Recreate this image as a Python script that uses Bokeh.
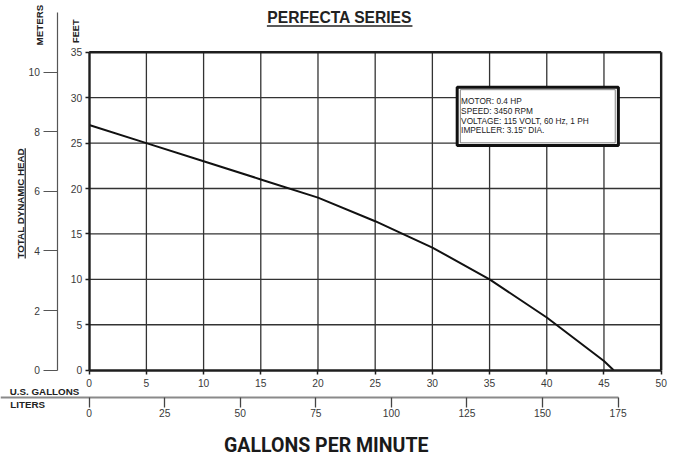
import math
from bokeh.plotting import figure
from bokeh.models import LinearAxis, Range1d, FixedTicker
from bokeh.core.properties import value
from bokeh.embed import file_html
from bokeh.resources import INLINE

# ---------------- data ----------------
gpm = [0, 5, 10, 15, 20, 25, 27.4, 30, 35, 40, 45, 45.85]
head_ft = [27.0, 25.0, 23.0, 21.0, 19.0, 16.4, 15.0, 13.5, 10.0, 5.8, 1.0, 0.0]

gal_ticks = [0, 5, 10, 15, 20, 25, 30, 35, 40, 45, 50]
ft_ticks = [0, 5, 10, 15, 20, 25, 30, 35]
m_ticks = [0, 2, 4, 6, 8, 10]
l_ticks = [0, 25, 50, 75, 100, 125, 150, 175]
m_axis_top = 12
specs = ["MOTOR: 0.4 HP", "SPEED: 3450 RPM", "VOLTAGE: 115 VOLT, 60 Hz, 1 PH",
         'IMPELLER: 3.15" DIA.']

M_PER_FT = 0.3048
L_PER_GAL = 3.78541

# ---------------- layout helpers (reference pixel -> data) ----------------
W, H = 676, 457
RW, RH = 692, 473      # reference picture size, mapped onto the canvas
X0, SX = 90.8, 11.71   # ref pixel of 0 gal, px per gal
Y0, SY = 382.6, 9.4    # ref pixel of 0 ft, px per ft
K = W / RW
BASE_FIX = 0.33        # text glyph baseline correction (em)


def gx(px):
    return (px - X0) / SX


def gy(py):
    return (Y0 - py) / SY


def fs(px):
    return f"{px * K:.2f}px"


FONT_NAME = "Liberation Sans"
FONT = value(FONT_NAME)
INK = "#1e1e1e"
LBL = "#3a3a3a"

p = figure(width=W, height=H, output_backend="svg", toolbar_location=None,
           x_range=Range1d(gx(0), gx(RW)),
           y_range=Range1d(gy(RH), gy(0)),
           x_axis_location=None, y_axis_location=None,
           min_border=0, outline_line_color=None,
           background_fill_color="white", border_fill_color="white")
p.grid.visible = False

p.extra_y_ranges = {"m": Range1d(gy(RH) * M_PER_FT, gy(0) * M_PER_FT)}
p.extra_x_ranges = {"L": Range1d(gx(0) * L_PER_GAL, gx(RW) * L_PER_GAL)}

xmax, ymax = gal_ticks[-1], ft_ticks[-1]

# grid
vx = gal_ticks[1:-1]
p.segment(x0=vx, y0=[0] * len(vx), x1=vx, y1=[ymax] * len(vx),
          line_color="#333333", line_width=1.3)
hy = ft_ticks[1:-1]
p.segment(x0=[0] * len(hy), y0=hy, x1=[xmax] * len(hy), y1=hy,
          line_color="#333333", line_width=1.3)
# frame top & right
p.segment(x0=[0, xmax], y0=[ymax, 0], x1=[xmax, xmax], y1=[ymax, ymax],
          line_color=INK, line_width=2.4)

# curve
p.line(gpm, head_ft, line_color="#111111", line_width=2, line_join="round")

# info box
p.quad(left=gx(467.5), right=gx(632.5), top=gy(89.7), bottom=gy(150),
       fill_color="white", line_color="#111111", line_width=3)
p.quad(left=gx(470.7), right=gx(629.3), top=gy(92.3), bottom=gy(147.3),
       fill_color=None, line_color="#666666", line_width=0.8)
SPEC_FS = 8.5
p.text(x=[gx(471.5)] * len(specs),
       y=[gy(107.3 + 10 * i - BASE_FIX * SPEC_FS) for i in range(len(specs))],
       text=specs, text_font=FONT, text_font_size=fs(SPEC_FS), text_color="#222222",
       text_align="left", text_baseline="alphabetic")

# axes
TICK_FS = fs(10.5)
ax_ft = LinearAxis(fixed_location=0, ticker=FixedTicker(ticks=ft_ticks), bounds=(0, ymax),
                   major_tick_out=4, major_tick_in=0, minor_tick_out=0, minor_tick_in=0,
                   major_label_standoff=3, axis_line_width=2.4, axis_line_color=INK,
                   major_tick_line_color=INK, major_tick_line_width=1.5,
                   major_label_text_font=FONT_NAME, major_label_text_font_size=TICK_FS,
                   major_label_text_color=LBL)
p.add_layout(ax_ft, "left")

ax_m = LinearAxis(y_range_name="m", fixed_location=gx(58.8), ticker=FixedTicker(ticks=m_ticks),
                  bounds=(0, m_axis_top),
                  major_tick_out=14, major_tick_in=0, minor_tick_out=0, minor_tick_in=0,
                  major_label_standoff=4, axis_line_width=1.2, axis_line_color="#555555",
                  major_tick_line_color="#555555", major_tick_line_width=1.2,
                  major_label_text_font=FONT_NAME, major_label_text_font_size=TICK_FS,
                  major_label_text_color=LBL)
p.add_layout(ax_m, "left")

ax_g = LinearAxis(fixed_location=0, ticker=FixedTicker(ticks=gal_ticks), bounds=(0, xmax),
                  major_tick_out=4, major_tick_in=0, minor_tick_out=0, minor_tick_in=0,
                  major_label_standoff=5, axis_line_width=2.6, axis_line_color=INK,
                  major_tick_line_color=INK, major_tick_line_width=1.5,
                  major_label_text_font=FONT_NAME, major_label_text_font_size=TICK_FS,
                  major_label_text_color=LBL)
p.add_layout(ax_g, "below")

ax_l = LinearAxis(x_range_name="L", fixed_location=gy(410.8), ticker=FixedTicker(ticks=l_ticks),
                  bounds=(gx(0) * L_PER_GAL, l_ticks[-1]),
                  major_tick_out=10, major_tick_in=0, minor_tick_out=0, minor_tick_in=0,
                  major_label_standoff=2, axis_line_width=1.8, axis_line_color="#8a8a8a",
                  major_tick_line_color="#444444", major_tick_line_width=1.3,
                  major_label_text_font=FONT_NAME, major_label_text_font_size=TICK_FS,
                  major_label_text_color=LBL)
p.add_layout(ax_l, "below")


def htext(px, py, s, size, bold=True, align="left", font=FONT, color="#222222"):
    p.text(x=[gx(px)], y=[gy(py - BASE_FIX * size)], text=[s], text_font=font,
           text_font_size=fs(size), text_font_style="bold" if bold else "normal",
           text_color=color, text_align=align, text_baseline="alphabetic")


def vtext(px, py, s, size):
    p.text(x=[gx(px - BASE_FIX * size)], y=[gy(py)], text=[s], angle=math.pi / 2,
           text_font=FONT, text_font_size=fs(size), text_font_style="bold",
           text_color="#222222", text_align="center", text_baseline="alphabetic")


# titles / labels
htext(347.2, 23.3, "PERFECTA SERIES", 16, align="center")
p.segment(x0=[gx(272.7)], y0=[gy(26.5)], x1=[gx(421.7)], y1=[gy(26.5)],
          line_color="#222222", line_width=1.5)

vtext(43.3, 25.5, "METERS", 10)
vtext(80, 31.7, "FEET", 9.5)
vtext(23.3, 210, "TOTAL DYNAMIC HEAD", 10)
p.segment(x0=[gx(25.3)], y0=[gy(153)], x1=[gx(25.3)], y1=[gy(267)],
          line_color="#222222", line_width=1.2)

htext(9.5, 407.7, "U.S. GALLONS", 10)
htext(10, 421, "LITERS", 10)

htext(333.5, 467, "GALLONS PER MINUTE", 20, align="center",
      font=value("Roboto"), color="#1a1a1a")

open("out.html", "w").write(file_html(p, INLINE))
